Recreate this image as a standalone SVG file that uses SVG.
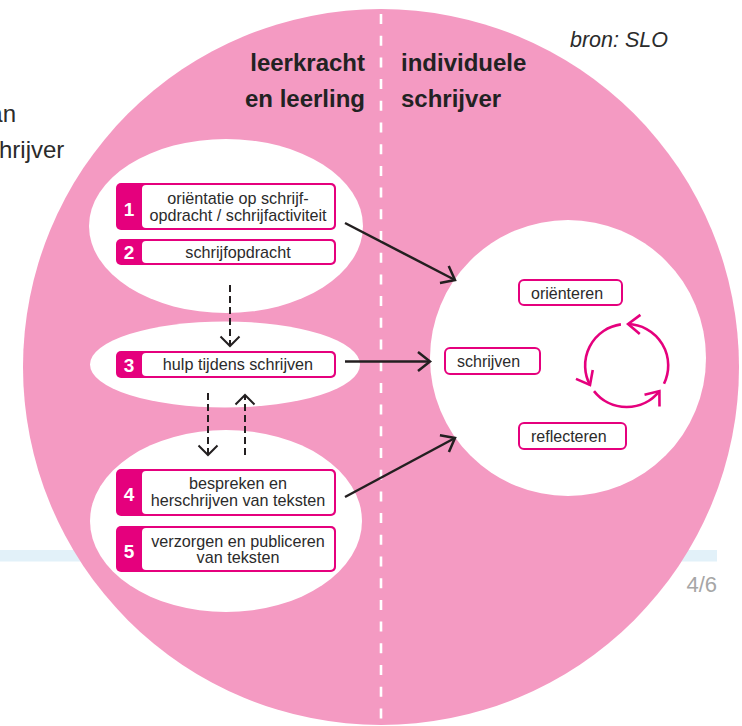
<svg xmlns="http://www.w3.org/2000/svg" width="742" height="726" viewBox="0 0 742 726">
<defs>
<style>
.txt{font-family:"Liberation Sans",Arial,sans-serif;fill:#2b2b2b}
.hdr{font-family:"Liberation Sans",Arial,sans-serif;font-weight:bold;font-size:24px;fill:#222}
.bx{font-size:16.2px;text-anchor:middle}
.num{font-family:"Liberation Sans",Arial,sans-serif;font-weight:bold;font-size:19px;fill:#fff;text-anchor:middle}
.mag{fill:#e5007d}
.inner{fill:#fff}
.lbl{fill:#fff;stroke:#e5007d;stroke-width:2}
.conn{stroke:#231f20;stroke-width:2.5;fill:none}
.dash{stroke:#231f20;stroke-width:2;fill:none;stroke-dasharray:7 4}
.cyc{stroke:#e5007d;stroke-width:2.6;fill:none}
</style>
<marker id="ah" markerUnits="userSpaceOnUse" viewBox="0 0 20 24" markerWidth="20" markerHeight="24" refX="14" refY="11" orient="auto">
<path d="M2,1.5 L14,11 L2,20.5" fill="none" stroke="#231f20" stroke-width="2.5" stroke-dasharray="none"/>
</marker>
<marker id="ahd" markerUnits="userSpaceOnUse" viewBox="0 0 20 24" markerWidth="20" markerHeight="24" refX="11" refY="11" orient="auto">
<path d="M1.5,1.5 L11,11 L1.5,20.5" fill="none" stroke="#231f20" stroke-width="2" stroke-dasharray="none"/>
</marker>
<marker id="ahm" markerUnits="userSpaceOnUse" viewBox="0 0 20 24" markerWidth="20" markerHeight="24" refX="14" refY="11" orient="auto">
<path d="M2,1.5 L14,11 L2,20.5" fill="none" stroke="#e5007d" stroke-width="2.6"/>
</marker>
</defs>

<g id="background">
<rect x="0" y="550" width="717" height="11.5" fill="#e2f1f9"/>
<text class="txt" x="16" y="122" font-size="24" text-anchor="end">an</text>
<text class="txt" x="-1" y="158" font-size="24">hrijver</text>
<text class="txt" x="570" y="47" font-size="21.5" font-style="italic">bron: SLO</text>
<text x="717" y="592" font-family="Liberation Sans, Arial, sans-serif" font-size="22" fill="#a6a6a6" text-anchor="end">4/6</text>
<circle cx="381" cy="367" r="358" fill="#f49ac2"/>
<line x1="381" y1="14" x2="381" y2="726" stroke="#fff" stroke-width="2.6" stroke-dasharray="10 11.7"/>
<ellipse cx="226" cy="226" rx="137" ry="87" fill="#fff"/>
<ellipse cx="225" cy="364.5" rx="135" ry="43" fill="#fff"/>
<ellipse cx="226" cy="521" rx="136" ry="91" fill="#fff"/>
<circle cx="568" cy="358" r="138" fill="#fff"/>
</g>

<g id="headers">
<text class="hdr" x="365" y="71" text-anchor="end">leerkracht</text>
<text class="hdr" x="365" y="107" text-anchor="end">en leerling</text>
<text class="hdr" x="401" y="71">individuele</text>
<text class="hdr" x="401" y="107">schrijver</text>
</g>

<g id="node-1">
<rect class="mag" x="116" y="183" width="220" height="47" rx="5"/>
<rect class="inner" x="142" y="185" width="192" height="43" rx="4"/>
<text class="num" x="129" y="216">1</text>
<text class="txt bx" x="238" y="204">oriëntatie op schrijf-</text>
<text class="txt bx" x="238" y="221">opdracht / schrijfactiviteit</text>
</g>
<g id="node-2">
<rect class="mag" x="116" y="239" width="220" height="26" rx="5"/>
<rect class="inner" x="142" y="241" width="192" height="22" rx="4"/>
<text class="num" x="129" y="259">2</text>
<text class="txt bx" x="238" y="257.5">schrijfopdracht</text>
</g>
<g id="node-3">
<rect class="mag" x="116" y="351" width="220" height="27" rx="5"/>
<rect class="inner" x="142" y="353" width="192" height="23" rx="4"/>
<text class="num" x="129" y="371.5">3</text>
<text class="txt bx" x="238" y="370">hulp tijdens schrijven</text>
</g>
<g id="node-4">
<rect class="mag" x="116" y="469" width="220" height="47" rx="5"/>
<rect class="inner" x="142" y="471" width="192" height="43" rx="4"/>
<text class="num" x="129" y="500.5">4</text>
<text class="txt bx" x="238" y="489">bespreken en</text>
<text class="txt bx" x="238" y="506">herschrijven van teksten</text>
</g>
<g id="node-5">
<rect class="mag" x="116" y="526" width="220" height="46" rx="5"/>
<rect class="inner" x="142" y="528" width="192" height="42" rx="4"/>
<text class="num" x="129" y="557.5">5</text>
<text class="txt bx" x="238" y="546.5">verzorgen en publiceren</text>
<text class="txt bx" x="238" y="563">van teksten</text>
</g>

<g id="node-orienteren">
<rect class="lbl" x="519" y="280" width="103" height="25" rx="5"/>
<text class="txt" x="531" y="299" font-size="16">oriënteren</text>
</g>
<g id="node-schrijven">
<rect class="lbl" x="445" y="348" width="95" height="26" rx="5"/>
<text class="txt" x="457" y="367.3" font-size="16">schrijven</text>
</g>
<g id="node-reflecteren">
<rect class="lbl" x="519" y="423" width="107" height="26" rx="5"/>
<text class="txt" x="531" y="441.7" font-size="16">reflecteren</text>
</g>

<g id="connectors">
<path class="conn" d="M345,223 L455,280" marker-end="url(#ah)"/>
<path class="conn" d="M345,361.5 L430,361.5" marker-end="url(#ah)"/>
<path class="conn" d="M345,497 L455,438" marker-end="url(#ah)"/>
<path class="dash" d="M230,285 L230,346" marker-end="url(#ahd)"/>
<path class="dash" d="M208,393 L208,455" marker-end="url(#ahd)"/>
<path class="dash" d="M245,455 L245,395" marker-end="url(#ahd)"/>
<path class="cyc" d="M620.9,324.4 A41.5,41.5 0 0 0 590,385" marker-end="url(#ahm)"/>
<path class="cyc" d="M594,391.1 A41.5,41.5 0 0 0 659.4,391.1" marker-end="url(#ahm)"/>
<path class="cyc" d="M664,383.7 A41.5,41.5 0 0 0 628.1,324" marker-end="url(#ahm)"/>
</g>
</svg>
